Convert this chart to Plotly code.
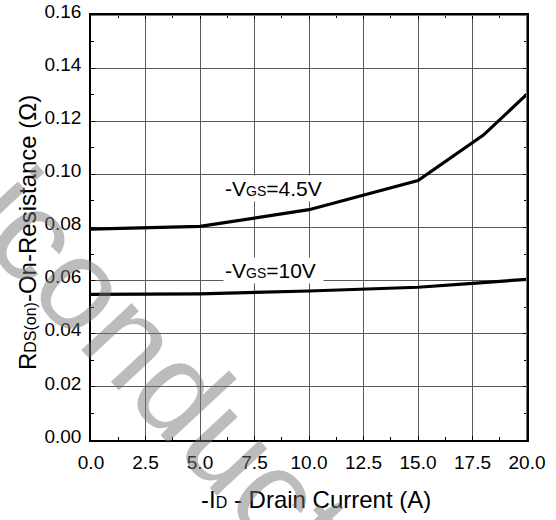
import plotly.graph_objects as go

# Drain current (A) and on-resistance (ohm) for the two gate drives
id_vgs45 = [0.0, 5.0, 10.0, 15.0, 18.0, 20.0]
rds_vgs45 = [0.0794, 0.0804, 0.0867, 0.0977, 0.1148, 0.1302]

id_vgs10 = [0.0, 5.0, 10.0, 15.0, 17.5, 20.0]
rds_vgs10 = [0.0548, 0.0550, 0.0561, 0.0575, 0.0590, 0.0605]

x_ticks = [0.0, 2.5, 5.0, 7.5, 10.0, 12.5, 15.0, 17.5, 20.0]
y_ticks = [0.00, 0.02, 0.04, 0.06, 0.08, 0.10, 0.12, 0.14, 0.16]

FONT = "Arial, 'Liberation Sans', sans-serif"
GRID = "#5a5a5a"

fig = go.Figure()
for xs, ys in ((id_vgs45, rds_vgs45), (id_vgs10, rds_vgs10)):
    fig.add_trace(go.Scatter(x=xs, y=ys, mode="lines",
                             line=dict(color="black", width=3.2),
                             showlegend=False, hoverinfo="skip"))

axis_common = dict(
    showgrid=True, gridcolor=GRID, gridwidth=1.3,
    showline=True, linecolor="black", linewidth=1.5, mirror="ticks",
    ticks="inside", ticklen=4, tickcolor="black", tickwidth=1,
    tickfont=dict(family=FONT, size=19, color="black"),
    zeroline=False, fixedrange=True, automargin=False,
)

fig.update_xaxes(range=[0, 20], tickvals=x_ticks,
                 ticktext=[f"{v:.1f}" for v in x_ticks],
                 minor=dict(ticks="inside", ticklen=3, dtick=1.25, tick0=0,
                            tickcolor="black", showgrid=False),
                 ticklabelstandoff=4, **axis_common)
fig.update_yaxes(range=[0, 0.16], tickvals=y_ticks,
                 ticktext=[f"{v:.2f}" for v in y_ticks],
                 minor=dict(ticks="inside", ticklen=3, dtick=0.01, tick0=0,
                            tickcolor="black", showgrid=False),
                 ticklabelstandoff=4, ticklabelshift=-4, **axis_common)

# top and right frame edges in grey
fig.add_shape(type="line", xref="x", yref="y", x0=0, x1=20, y0=0.16, y1=0.16,
              line=dict(color="#767676", width=2), layer="above")
fig.add_shape(type="line", xref="x", yref="y", x0=20, x1=20, y0=0, y1=0.16,
              line=dict(color="#767676", width=2), layer="above")

sub = '<span style="font-size:14px">{}</span>'
fig.add_annotation(x=6.06, y=0.0947, xref="x", yref="y", xanchor="left",
                   yanchor="middle", showarrow=False, bgcolor="white",
                   borderpad=1,
                   text="-V" + sub.format("GS") + "=4.5V",
                   font=dict(family=FONT, size=21, color="black"))
fig.add_annotation(x=6.06, y=0.0640, xref="x", yref="y", xanchor="left",
                   yanchor="middle", showarrow=False, bgcolor="white",
                   borderpad=1,
                   text="-V" + sub.format("GS") + "=10V&nbsp;",
                   font=dict(family=FONT, size=21, color="black"))

# axis titles
sub_t = '<span style="font-size:16px">{}</span>'
fig.add_annotation(x=0.516, y=-0.141, xref="paper", yref="paper",
                   xanchor="center", yanchor="middle", showarrow=False,
                   text="-I" + sub_t.format("D") + " - Drain Current (A)",
                   font=dict(family=FONT, size=24, color="black"))
fig.add_annotation(x=-0.147, y=0.489, xref="paper", yref="paper",
                   xanchor="center", yanchor="middle", showarrow=False,
                   textangle=-90,
                   text="R" + sub_t.format("DS(on)") + "-On-Resistance (\u03a9)",
                   font=dict(family=FONT, size=24, color="black"))

# faint diagonal watermark
fig.add_annotation(x=0.04, y=0.30, xref="paper", yref="paper",
                   xanchor="center", yanchor="middle", showarrow=False,
                   textangle=47, text="Semiconductor",
                   font=dict(family=FONT, size=130,
                             color="rgba(115,115,115,0.48)"))

fig.update_layout(
    width=556, height=520,
    margin=dict(l=91, r=29, t=15, b=80),
    paper_bgcolor="white", plot_bgcolor="white",
    showlegend=False,
)

fig.write_html("out.html", config={"displayModeBar": False})
